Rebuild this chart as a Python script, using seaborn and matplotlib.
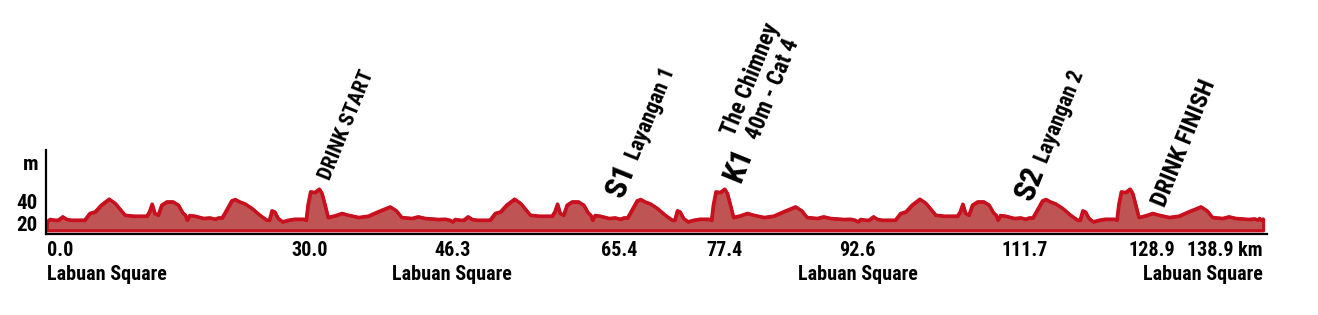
import matplotlib
matplotlib.use("Agg")
import math
import matplotlib.pyplot as plt
from matplotlib import font_manager
import seaborn as sns

# ---------------- data ----------------
dist_km = [
    0.0, 0.35, 0.9, 1.3, 1.8, 2.25, 2.8, 4.3, 4.9, 5.5, 6.2, 7.1, 7.8, 8.9, 9.9, 11.4,
    11.7, 12.0, 12.3, 12.7, 13.1, 13.7, 14.4, 15.0, 15.5, 15.8, 16.0, 16.3, 16.9, 17.9,
    18.6, 19.2, 19.6, 20.0, 20.3, 21.1, 21.5, 22.0, 22.6, 23.4, 24.3, 25.1, 25.4, 25.7,
    26.0, 26.4, 26.9, 27.6, 28.3, 29.3, 29.6, 29.8, 30.1, 30.6, 31.1, 31.4, 31.8, 32.1,
    32.9, 33.7, 34.4, 35.6, 36.7, 37.8, 39.2, 39.9, 40.5, 41.7, 42.4, 43.2, 44.7, 45.5,
    46.0,
    46.3, 46.65, 47.2, 47.6, 48.1, 48.55, 49.1, 50.6, 51.2, 51.8, 52.5, 53.4, 54.1, 55.2,
    56.2, 57.7, 58.0, 58.3, 58.6, 59.0, 59.4, 60.0, 60.7, 61.3, 61.8, 62.1, 62.3, 62.6,
    63.2, 64.2, 64.9, 65.5, 65.9, 66.3, 66.6, 67.4, 67.8, 68.3, 68.9, 69.7, 70.6, 71.4,
    71.7, 72.0, 72.3, 72.7, 73.2, 73.9, 74.6, 75.6, 75.9, 76.1, 76.4, 76.9, 77.4, 77.7,
    78.1, 78.4, 79.2, 80.0, 80.7, 81.9, 83.0, 84.1, 85.5, 86.2, 86.8, 88.0, 88.7, 89.5,
    91.0, 91.8, 92.3,
    92.6, 92.95, 93.5, 93.9, 94.4, 94.85, 95.4, 96.9, 97.5, 98.1, 98.8, 99.7, 100.4,
    101.5, 102.5, 104.0, 104.3, 104.6, 104.9, 105.3, 105.7, 106.3, 107.0, 107.6, 108.1,
    108.4, 108.6, 108.9, 109.5, 110.5, 111.2, 111.8, 112.2, 112.6, 112.9, 113.7, 114.1,
    114.6, 115.2, 116.0, 116.9, 117.7, 118.0, 118.3, 118.6, 119.0, 119.5, 120.2, 120.9,
    121.9, 122.2, 122.4, 122.7, 123.2, 123.7, 124.0, 124.4, 124.7, 125.5, 126.3, 127.0,
    128.2, 129.3, 130.4, 131.8, 132.5, 133.1, 134.3, 135.0, 135.8, 137.3, 137.9, 138.3,
    138.5, 138.7, 138.9,
]
elev_m = [
    21.5, 23.7, 23.0, 23.0, 26.1, 23.7, 23.0, 23.0, 29.2, 30.6, 36.8, 42.3, 38.3, 27.6, 26.7, 26.7,
    30.6, 37.7, 29.2, 27.6, 36.8, 39.8, 39.8, 36.8, 29.7, 27.6, 23.0, 27.3, 26.7, 24.6,
    25.1, 23.9, 25.1, 25.1, 29.2, 40.7, 42.0, 39.8, 38.0, 33.8, 27.6, 23.0, 23.0, 31.6,
    30.6, 24.6, 21.5, 23.0, 23.9, 23.9, 23.0, 36.8, 49.0, 48.4, 51.5, 47.5, 35.2, 25.5,
    27.0, 29.2, 27.6, 25.5, 26.7, 30.6, 35.2, 31.6, 25.5, 24.6, 26.1, 24.6, 23.7, 23.9,
    23.0,
    21.5, 23.7, 23.0, 23.0, 26.1, 23.7, 23.0, 23.0, 29.2, 30.6, 36.8, 42.3, 38.3, 27.6,
    26.7, 26.7, 30.6, 37.7, 29.2, 27.6, 36.8, 39.8, 39.8, 36.8, 29.7, 27.6, 23.0, 27.3,
    26.7, 24.6, 25.1, 23.9, 25.1, 25.1, 29.2, 40.7, 42.0, 39.8, 38.0, 33.8, 27.6, 23.0,
    23.0, 31.6, 30.6, 24.6, 21.5, 23.0, 23.9, 23.9, 23.0, 36.8, 49.0, 48.4, 51.5, 47.5,
    35.2, 25.5, 27.0, 29.2, 27.6, 25.5, 26.7, 30.6, 35.2, 31.6, 25.5, 24.6, 26.1, 24.6,
    23.7, 23.9, 23.0,
    21.5, 23.7, 23.0, 23.0, 26.1, 23.7, 23.0, 23.0, 29.2, 30.6, 36.8, 42.3, 38.3,
    27.6, 26.7, 26.7, 30.6, 37.7, 29.2, 27.6, 36.8, 39.8, 39.8, 36.8, 29.7,
    27.6, 23.0, 27.3, 26.7, 24.6, 25.1, 23.9, 25.1, 25.1, 29.2, 40.7, 42.0,
    39.8, 38.0, 33.8, 27.6, 23.0, 23.0, 31.6, 30.6, 24.6, 21.5, 23.0, 23.9,
    23.9, 23.0, 36.8, 49.0, 48.4, 51.5, 47.5, 35.2, 25.5, 27.0, 29.2, 27.6,
    25.5, 26.7, 30.6, 35.2, 31.6, 25.5, 24.6, 26.1, 24.6, 23.7, 24.2, 23.2,
    24.5, 23.0, 24.0,
]

tick_km = [0.0, 30.0, 46.3, 65.4, 77.4, 92.6, 111.7, 128.9, 138.9]
tick_labels = ["0.0", "30.0", "46.3", "65.4", "77.4", "92.6", "111.7", "128.9", "138.9 km"]
place_km = [0.0, 46.3, 92.6, 138.9]
place_names = ["Labuan Square", "Labuan Square", "Labuan Square", "Labuan Square"]
y_ticks = [20, 40]

# point labels: bold prefix, text, anchor km, anchor elevation
poi_prefix = ["", "S1", "K1", "S2", ""]
poi_text = ["DRINK START", "Layangan 1", "The Chimney\n40m - Cat 4", "Layangan 2", "DRINK FINISH"]
poi_km = [32.3, 65.8, 79.2, 112.5, 127.7]
poi_elev = [58.8, 42.3, 55.7, 39.5, 33.9]

# ---------------- style ----------------
sns.set_theme(style="white")
names = {f.name for f in font_manager.fontManager.ttflist}
prefs = ["Liberation Sans Narrow", "Arial Narrow", "Roboto Condensed",
         "DejaVu Sans Condensed", "Open Sans Condensed"]
narrow = [p for p in prefs if p in names]
family = narrow[0] if narrow else "Liberation Sans"
plt.rcParams["font.family"] = [family, "DejaVu Sans"]
plt.rcParams["font.weight"] = "bold"
for k in ["text.color", "xtick.color", "ytick.color", "axes.labelcolor"]:
    plt.rcParams[k] = "black"

fs_tick = 14.5
fs_big = 23
poi_fs = [15, 15.5, 16.5, 15.5, 17.5]

W, H = 1318, 315
fig = plt.figure(figsize=(W / 100, H / 100), dpi=100)
ax = fig.add_axes([46 / W, (H - 234) / H, (1267 - 46) / W, (234 - 150) / H])

fill_c = "#bf5454"
line_c = "#c8101e"
base = 13.6

ax.fill_between(dist_km, elev_m, base, facecolor=fill_c, edgecolor=line_c, linewidth=2.3,
                zorder=2)
sns.lineplot(x=dist_km, y=elev_m, ax=ax, color=line_c, linewidth=2.3, zorder=3)

ax.set_xlim(-0.11, 139.35)
ax.set_ylim(10.2, 87.3)

for s in ["top", "right"]:
    ax.spines[s].set_visible(False)
for s in ["left", "bottom"]:
    ax.spines[s].set_color("black")
    ax.spines[s].set_linewidth(1.6)
    ax.spines[s].set_zorder(4)

ax.set_yticks(y_ticks)
ax.set_yticklabels([str(v) for v in y_ticks], fontsize=fs_tick + 0.5, fontweight="bold")
ax.tick_params(axis="y", length=0, pad=6)

ax.set_xticks(tick_km)
ax.set_xticklabels(tick_labels, fontsize=fs_tick, fontweight="bold")
ax.tick_params(axis="x", length=0, pad=5)
labs = ax.get_xticklabels()
for i, t in enumerate(labs):
    if i == 0:
        t.set_horizontalalignment("left")
    elif i == len(labs) - 1 or tick_km[i] == 128.9:
        t.set_horizontalalignment("right")
ax.grid(False)

# second row: start / lap / finish place names
for i, (km, name) in enumerate(zip(place_km, place_names)):
    ha = "left" if i == 0 else ("right" if i == len(place_km) - 1 else "center")
    ax.annotate(name, xy=(km, 0), xycoords=ax.get_xaxis_transform(),
                xytext=(0, -(5 + 1.2 * fs_tick)), textcoords="offset points",
                ha=ha, va="top", fontsize=fs_tick, fontweight="bold", annotation_clip=False)

ax.text(-0.013, 0.83, "m", transform=ax.transAxes, ha="center", va="center",
        fontsize=fs_tick + 0.5, fontweight="bold")

# ---------------- point-of-interest labels ----------------
ang = 68
ca, sa = math.cos(math.radians(ang)), math.sin(math.radians(ang))
fig.canvas.draw()
renderer = fig.canvas.get_renderer()
for pre, txt, km, el, fs in zip(poi_prefix, poi_text, poi_km, poi_elev, poi_fs):
    offset = 0.0
    if pre:
        ax.annotate(pre, xy=(km, el), xytext=(0, 0), textcoords="offset points",
                    rotation=ang, rotation_mode="anchor", ha="left", va="baseline",
                    fontsize=fs_big, fontweight="bold")
        tmp = fig.text(0, 0, pre + " ", fontsize=fs_big, fontweight="bold")
        offset = tmp.get_window_extent(renderer).width * 72 / fig.dpi
        tmp.remove()
    ax.annotate(txt, xy=(km, el), xytext=(offset * ca, offset * sa), textcoords="offset points",
                rotation=ang, rotation_mode="anchor", ha="left", va="baseline",
                multialignment="center", linespacing=1.05,
                fontsize=fs, fontweight="bold")

fig.savefig("out.png", dpi=100)
